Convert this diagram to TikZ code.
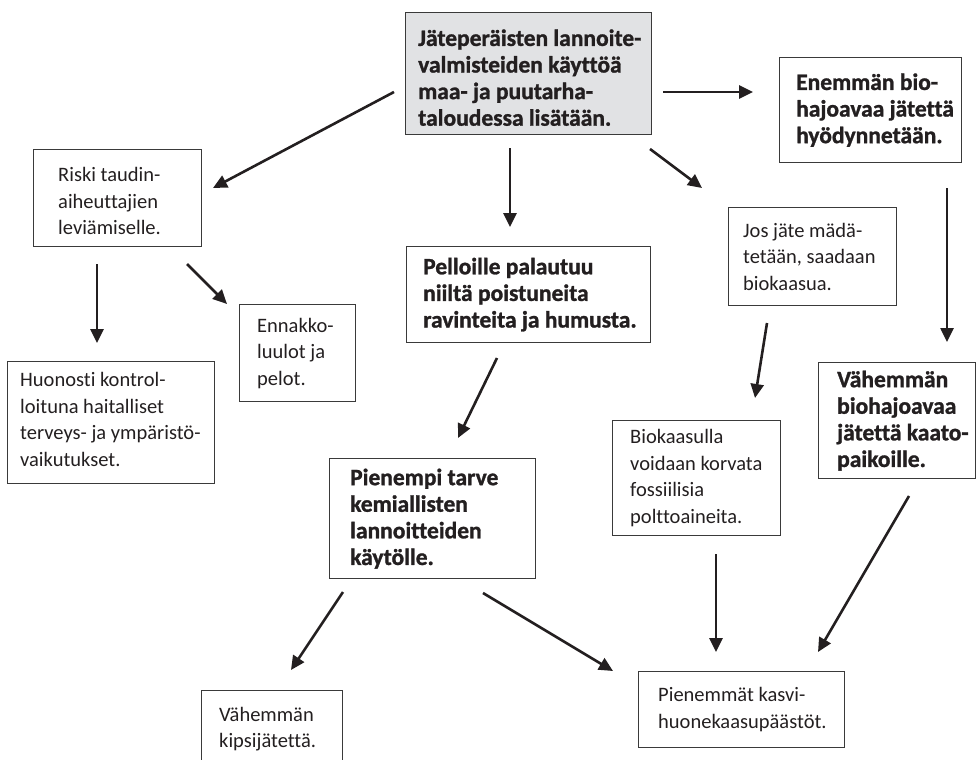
\documentclass[tikz,border=0pt]{standalone}
\usepackage{fontspec}
\setmainfont{Carlito}[Ligatures=NoCommon, BoldFeatures={FakeBold=1.2}]
\usetikzlibrary{arrows.meta}
\definecolor{boxline}{HTML}{3A3A3A}
\definecolor{ink}{HTML}{231F20}
\definecolor{topfill}{HTML}{E1E2E4}
\tikzset{
  box/.style={draw=boxline, line width=1.3pt, inner sep=0pt, anchor=north west},
  txt/.style={anchor=west, align=left, inner sep=0pt, text=ink,
              font=\fontsize{20.5}{26.6}\selectfont},
  btxt/.style={txt, font=\fontsize{23.5}{26.6}\selectfont\bfseries},
  flow/.style={draw=ink, line width=2.6pt, -{Triangle[length=14pt,width=13pt]}},
}
\begin{document}
\begin{tikzpicture}[x=1pt,y=-1pt]
\useasboundingbox (0,0) rectangle (977,760);

% boxes
\node[box, fill=topfill, minimum width=246pt, minimum height=122pt] (top) at (405,12) {};
\node[box, minimum width=168pt, minimum height=97pt]  (riski)     at (33,149)  {};
\node[box, minimum width=182pt, minimum height=105pt] (enemman)   at (779,57)  {};
\node[box, minimum width=168pt, minimum height=98pt]  (jos)       at (728,207) {};
\node[box, minimum width=244pt, minimum height=96pt]  (pelloille) at (406,246) {};
\node[box, minimum width=116pt, minimum height=97pt]  (ennakko)   at (239,304) {};
\node[box, minimum width=207pt, minimum height=122pt] (huonosti)  at (7,361)   {};
\node[box, minimum width=168pt, minimum height=115pt] (biokaasu)  at (612,420) {};
\node[box, minimum width=157pt, minimum height=116pt] (vahemman)  at (818,362) {};
\node[box, minimum width=206pt, minimum height=120pt] (pienempi)  at (329,458) {};
\node[box, minimum width=206pt, minimum height=76pt]  (pienemmat) at (638,671) {};
\node[box, minimum width=141pt, minimum height=110pt] (kipsi)     at (201,690) {};

% texts
\node[btxt] (topT) at ([xshift=13pt,yshift=-4pt]top.west)
  {Jäteperäisten lannoite-\\valmisteiden käyttöä\\maa- ja puutarha-\\taloudessa lisätään.};
\node[txt] (riskiT) at ([xshift=25pt,yshift=-3pt]riski.west)
  {Riski taudin-\\aiheuttajien\\leviämiselle.};
\node[btxt] (enemmanT) at ([xshift=17pt]enemman.west)
  {Enemmän bio-\\hajoavaa jätettä\\hyödynnetään.};
\node[txt] (josT) at ([xshift=15pt]jos.west)
  {Jos jäte mädä-\\tetään, saadaan\\biokaasua.};
\node[btxt] (pelloilleT) at ([xshift=17pt]pelloille.west)
  {Pelloille palautuu\\niiltä poistuneita\\ravinteita ja humusta.};
\node[txt] (ennakkoT) at ([xshift=18pt]ennakko.west)
  {Ennakko-\\luulot ja\\pelot.};
\node[txt] (huonostiT) at ([xshift=13pt,yshift=3pt]huonosti.west)
  {Huonosti kontrol-\\loituna haitalliset\\terveys- ja ympäristö-\\vaikutukset.};
\node[txt] (biokaasuT) at ([xshift=18pt]biokaasu.west)
  {Biokaasulla\\voidaan korvata\\fossiilisia\\polttoaineita.};
\node[btxt] (vahemmanT) at ([xshift=19pt]vahemman.west)
  {Vähemmän\\biohajoavaa\\jätettä kaato-\\paikoille.};
\node[btxt] (pienempiT) at ([xshift=21pt]pienempi.west)
  {Pienempi tarve\\kemiallisten\\lannoitteiden\\käytölle.};
\node[txt] (pienemmatT) at ([xshift=20pt]pienemmat.west)
  {Pienemmät kasvi-\\huonekaasupäästöt.};
\node[txt] (kipsiT) at ([xshift=18pt,yshift=-39pt]kipsi.north west)
  {Vähemmän\\kipsijätettä.};

% arrow end points
\coordinate (a1s) at (394,92);  \coordinate (a1e) at (213,188);
\coordinate (a2s) at (510,148); \coordinate (a2e) at (510,227);
\coordinate (a3s) at (650,149); \coordinate (a3e) at (702,188);
\coordinate (a4s) at (663,92);  \coordinate (a4e) at (753,92);
\coordinate (a5s) at (97,264);  \coordinate (a5e) at (97,343);
\coordinate (a6s) at (187,264); \coordinate (a6e) at (227,304);
\coordinate (a7s) at (947,188); \coordinate (a7e) at (947,342);
\coordinate (a8s) at (767,323); \coordinate (a8e) at (755,398);
\coordinate (a9s) at (497,358); \coordinate (a9e) at (458,438);
\coordinate (a10s) at (343,592); \coordinate (a10e) at (291,670);
\coordinate (a11s) at (483,593); \coordinate (a11e) at (613,671);
\coordinate (a12s) at (716,554); \coordinate (a12e) at (716,652);
\coordinate (a13s) at (909,496); \coordinate (a13e) at (818,652);

% arrows
\foreach \i in {1,...,13} { \draw[flow] (a\i s) -- (a\i e); }
\end{tikzpicture}
\end{document}
